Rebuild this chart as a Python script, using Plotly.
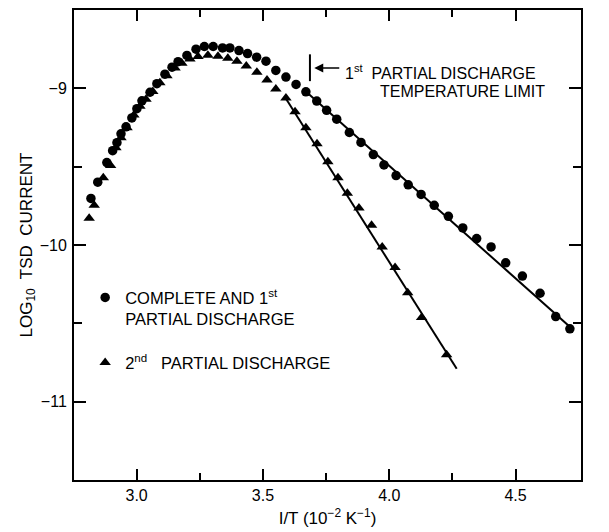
import plotly.graph_objects as go

# ---- data ----
circ_x = [2.819, 2.846, 2.882, 2.905, 2.922, 2.938, 2.958, 2.981, 3.001, 3.021, 3.053, 3.080,
          3.112, 3.140, 3.164, 3.199, 3.235, 3.268, 3.303, 3.340, 3.369, 3.405, 3.439, 3.475,
          3.512, 3.551, 3.591, 3.631, 3.670, 3.713, 3.752, 3.792, 3.842, 3.888, 3.937, 3.979,
          4.027, 4.075, 4.126, 4.178, 4.234, 4.291, 4.346, 4.403, 4.461, 4.527, 4.597, 4.659, 4.715]
circ_y = [-9.703, -9.599, -9.474, -9.398, -9.347, -9.290, -9.246, -9.189, -9.130, -9.080, -9.025, -8.970,
          -8.910, -8.865, -8.830, -8.790, -8.750, -8.733, -8.733, -8.742, -8.742, -8.759, -8.778, -8.801,
          -8.827, -8.886, -8.928, -8.975, -9.022, -9.081, -9.140, -9.197, -9.282, -9.345, -9.423, -9.489,
          -9.557, -9.616, -9.677, -9.747, -9.817, -9.891, -9.959, -10.012, -10.114, -10.198, -10.308, -10.457, -10.535]

tri_x = [2.812, 2.832, 2.868, 2.897, 2.918, 2.938, 2.962, 2.989, 3.013, 3.037, 3.064, 3.092,
         3.120, 3.152, 3.179, 3.211, 3.243, 3.282, 3.322, 3.361, 3.397, 3.434, 3.476, 3.516,
         3.551, 3.591, 3.627, 3.670, 3.714, 3.757, 3.797, 3.834, 3.880, 3.930, 3.972, 4.023,
         4.073, 4.128, 4.227]
tri_y = [-9.830, -9.747, -9.570, -9.493, -9.379, -9.316, -9.252, -9.170, -9.115, -9.070, -9.020, -8.965,
         -8.920, -8.870, -8.840, -8.812, -8.797, -8.789, -8.795, -8.808, -8.827, -8.858, -8.897, -8.947,
         -9.004, -9.062, -9.150, -9.252, -9.354, -9.468, -9.570, -9.669, -9.764, -9.874, -10.012, -10.143,
         -10.304, -10.463, -10.700]

fit1_x = [3.670, 4.728]
fit1_y = [-9.020, -10.541]
fit2_x = [3.585, 4.267]
fit2_y = [-9.050, -10.790]

x_ticks = [3.0, 3.5, 4.0, 4.5]
x_labels = ["3.0", "3.5", "4.0", "4.5"]
y_ticks = [-9, -10, -11]
y_labels = ["\u22129", "\u221210", "\u221211"]

FONT = "Liberation Sans, Arial, sans-serif"

fig = go.Figure()
fig.add_trace(go.Scatter(x=fit1_x, y=fit1_y, mode="lines", line=dict(color="black", width=2),
                         showlegend=False, hoverinfo="skip"))
fig.add_trace(go.Scatter(x=fit2_x, y=fit2_y, mode="lines", line=dict(color="black", width=2),
                         showlegend=False, hoverinfo="skip"))
fig.add_trace(go.Scatter(x=circ_x, y=circ_y, mode="markers",
                         marker=dict(symbol="circle", size=9.5, color="black"),
                         name="COMPLETE AND 1<sup>st</sup><br>PARTIAL DISCHARGE", legendgroup="a"))
fig.add_trace(go.Scatter(x=tri_x, y=tri_y, mode="markers",
                         marker=dict(symbol="triangle-up", size=10, color="black"),
                         name="2<sup>nd</sup>   PARTIAL DISCHARGE", legendgroup="b"))

axis_common = dict(showline=True, linecolor="black", linewidth=2, mirror="allticks",
                   ticks="inside", tickcolor="black", tickwidth=2, showgrid=False, zeroline=False,
                   automargin=False,
                   tickfont=dict(family=FONT, size=16, color="black"))

fig.update_xaxes(range=[2.752, 4.759], tickmode="array", tickvals=x_ticks, ticktext=x_labels,
                 ticklen=11, ticklabelstandoff=0,
                 minor=dict(tickmode="array", tickvals=[3.25, 3.75, 4.25], ticks="inside", ticklen=7,
                            tickwidth=2, tickcolor="black", showgrid=False),
                 title=dict(text="I/T (10<sup>\u22122</sup> K<sup>\u22121</sup>)",
                            font=dict(family=FONT, size=17, color="black"), standoff=9),
                 **axis_common)
fig.update_yaxes(range=[-11.5, -8.5], tickmode="array", tickvals=y_ticks, ticktext=y_labels,
                 ticklen=12, ticklabelstandoff=2,
                 minor=dict(tickmode="array", tickvals=[-9.5, -10.5], ticks="inside", ticklen=8,
                            tickwidth=2, tickcolor="black", showgrid=False),
                 title=dict(text="LOG<sub>10</sub>  TSD  CURRENT",
                            font=dict(family=FONT, size=17, color="black"), standoff=3),
                 **axis_common)

ann_font = dict(family=FONT, size=16, color="black")
fig.add_shape(type="line", x0=3.686, x1=3.686, y0=-8.783, y1=-8.954,
              line=dict(color="black", width=2))
fig.add_annotation(x=3.703, y=-8.871, ax=3.808, ay=-8.871, xref="x", yref="y", axref="x", ayref="y",
                   text="", showarrow=True, arrowhead=2, arrowsize=1.2, arrowwidth=1.5, arrowcolor="black")
fig.add_annotation(x=3.815, y=-8.893, xref="x", yref="y", xanchor="left", yanchor="middle",
                   text="1<sup>st</sup>  PARTIAL DISCHARGE", showarrow=False, font=ann_font)
fig.add_annotation(x=3.955, y=-9.017, xref="x", yref="y", xanchor="left", yanchor="middle",
                   text="TEMPERATURE LIMIT", showarrow=False, font=ann_font)

# the page body has an 8 px margin, so the figure is sized to fit inside the window
fig.update_layout(
    width=601, height=524,
    margin=dict(l=66, r=28, t=2, b=52),
    paper_bgcolor="white", plot_bgcolor="white",
    font=dict(family=FONT, color="black"),
    showlegend=True,
    legend=dict(x=0.022, y=0.425, xanchor="left", yanchor="top", bgcolor="rgba(0,0,0,0)",
                font=dict(family=FONT, size=16.5, color="black"), valign="top",
                tracegroupgap=19, itemwidth=30),
)

fig.write_html("out.html")
